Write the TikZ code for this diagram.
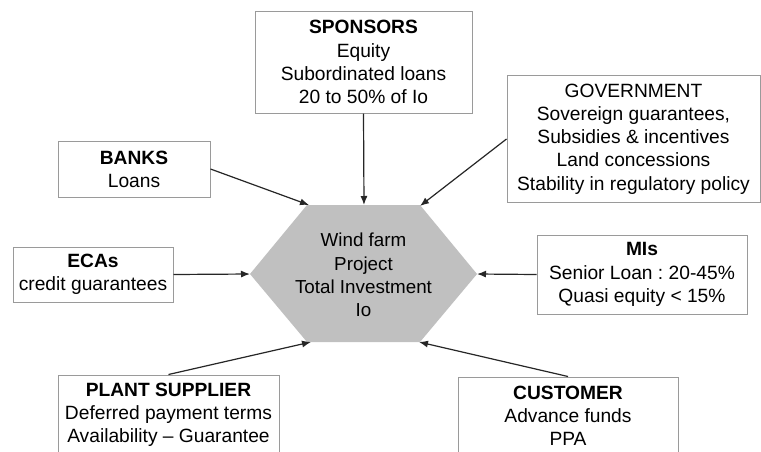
\documentclass[tikz,border=0pt]{standalone}
\usepackage{fontspec}
\setmainfont{Liberation Sans}
\usepackage{tikz}
\usetikzlibrary{arrows.meta}
\usetikzlibrary{positioning}

\definecolor{hexgray}{HTML}{C0C0C0}
\definecolor{boxgray}{HTML}{9A9A9A}

\tikzset{
    partner/.style={draw=boxgray, line width=0.5pt, fill=white, inner sep=0pt,
        align=center, font=\fontsize{9.6}{11.6}\selectfont\frenchspacing},
    flow/.style={-{Latex[length=4.5pt,width=3.5pt]}, line width=0.6pt, draw=black!85},
}

\begin{document}
\begin{tikzpicture}[x=0.5pt, y=-0.5pt]
    \clip (0,0) rectangle (761,451);
    \fill[white] (0,0) rectangle (761,451);

    % the project in the middle
    \fill[hexgray] (250,274) -- (307,205) -- (420,205) -- (477,274)
        -- (420,342) -- (307,342) -- cycle;
    \coordinate (hL) at (250,274);
    \coordinate (hTL) at (309,205);
    \coordinate (hT) at (364,205);
    \coordinate (hTR) at (420,206);
    \coordinate (hR) at (477,274);
    \coordinate (hBL) at (311,342);
    \coordinate (hBR) at (419,342);
    \node[align=center, font=\fontsize{9.4}{11.6}\selectfont] (proj) at (363.5,275)
        {Wind farm\\Project\\Total Investment\\Io};

    % the partners
    \node[partner, minimum width=108.5pt, minimum height=51pt] (sponsors) at (363.5,62)
        {\textbf{SPONSORS}\\Equity\\Subordinated loans\\20 to 50\% of Io};
    \node[partner, minimum width=76pt, minimum height=28pt] (banks) at (134,169)
        {\textbf{BANKS}\\Loans};
    \node[partner, minimum width=126.5pt, minimum height=63.5pt] (gov) at (633.5,139)
        {GOVERNMENT\\Sovereign guarantees,\\Subsidies \& incentives\\Land concessions\\Stability in regulatory policy};
    \node[partner, minimum width=80pt, minimum height=27.5pt] (ecas) at (93,274.5)
        {\textbf{ECAs}\\credit guarantees};
    \node[partner, minimum width=105pt, minimum height=39.5pt] (mis) at (642,274.5)
        {\textbf{MIs}\\Senior Loan : 20-45\%\\Quasi equity < 15\%};
    \node[partner, minimum width=110.5pt, minimum height=40pt] (plant) at (168.5,415)
        {\textbf{PLANT SUPPLIER}\\Deferred payment terms\\Availability -- Guarantee};
    \node[partner, minimum width=110pt, minimum height=39pt] (cust) at (568,416)
        {\textbf{CUSTOMER}\\Advance funds\\PPA};

    % flows into the project
    \draw[flow] (sponsors.south) -- (hT);
    \draw[flow] (banks.east) -- (hTL);
    \draw[flow] (gov.west) -- (hTR);
    \draw[flow] (ecas.east) -- (hL);
    \draw[flow] (mis.west) -- (hR);
    \draw[flow] (plant.north) -- (hBL);
    \draw[flow] (cust.north) -- (hBR);
\end{tikzpicture}
\end{document}
